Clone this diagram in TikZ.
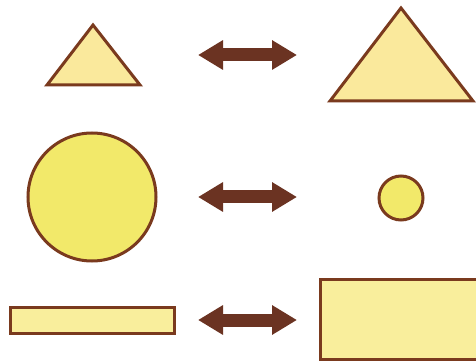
\documentclass[tikz,border=0pt]{standalone}
\usepackage{tikz}
\usetikzlibrary{arrows.meta,positioning}
\definecolor{shapeEdge}{HTML}{7A3A1E}
\definecolor{arrowBrown}{HTML}{6B3322}
\definecolor{triFill}{HTML}{FAE99C}
\definecolor{circFill}{HTML}{F2E96A}
\definecolor{rectFill}{HTML}{F9EE9C}

\begin{document}
\begin{tikzpicture}[x=1pt,y=-1pt,
  edge/.style={draw=shapeEdge,line width=3pt,line join=miter},
  swap/.style={arrowBrown,line width=13pt,
    {Triangle[length=25pt,width=28pt]}-{Triangle[length=25pt,width=28pt]}},
  every node/.style={inner sep=0pt,outer sep=0pt}]
\useasboundingbox (0,0) rectangle (476,363);
\clip (0,0) rectangle (476,363);
% --- triangles ---
\draw[edge,fill=triFill] (93,25) -- (140,85) -- (47,85) -- cycle;
\draw[edge,fill=triFill] (401,8) -- (473,101) -- (330,101) -- cycle;
% --- circles ---
\node[circle,edge,fill=circFill,minimum size=128pt] (bigC) at (92,197) {};
\node[circle,edge,fill=circFill,minimum size=44pt] (smallC) at (401,198) {};
% --- rectangles ---
\node[rectangle,edge,fill=rectFill,minimum width=164pt,minimum height=26pt] (thinR) at (92.5,320.5) {};
\node[rectangle,edge,fill=rectFill,minimum width=162pt,minimum height=80pt] (bigR) at (401,319) {};
% --- arrows ---
\foreach \y/\n in {55/t,197/c,320/r} {
  \coordinate (L\n) at (198,\y);
  \coordinate (R\n) at (297,\y);
  \draw[swap] (L\n) -- (R\n);
}
\end{tikzpicture}
\end{document}
